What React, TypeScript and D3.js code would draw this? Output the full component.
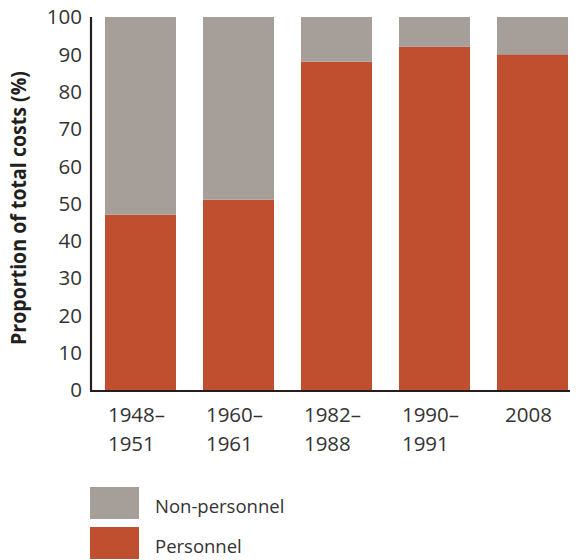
import React, { useEffect, useRef } from "react";
import * as d3 from "d3";

const categories: string[][] = [["1948–", "1951"], ["1960–", "1961"], ["1982–", "1988"], ["1990–", "1991"], ["2008"]];
const personnel: number[] = [47, 51, 88, 92, 90];
const nonPersonnel: number[] = [53, 49, 12, 8, 10];
const yTicks: number[] = [0, 10, 20, 30, 40, 50, 60, 70, 80, 90, 100];
const seriesNames = ["Non-personnel", "Personnel"];
const seriesColors = ["#a69e99", "#bf4f2f"];

const W = 578;
const H = 560;
const FONT = "'Open Sans', 'Noto Sans', sans-serif";

export default function App() {
  const ref = useRef<SVGSVGElement>(null);
  useEffect(() => {
    const svg = d3.select(ref.current);
    svg.selectAll("*").remove();
    const x = d3.scaleBand<number>().domain(categories.map((_, i) => i)).range([91, 582]).paddingInner(0.2755).paddingOuter(0.1429);
    const y = d3.scaleLinear().domain([0, 100]).range([390, 17]);

    const stacked = categories.map((_, i) => ({ i, p: personnel[i], n: nonPersonnel[i] }));
    const g = svg.append("g");
    g.selectAll("rect.p").data(stacked).join("rect")
      .attr("x", d => x(d.i)!).attr("width", x.bandwidth())
      .attr("y", d => y(d.p)).attr("height", d => y(0) - y(d.p))
      .attr("fill", seriesColors[1]);
    g.selectAll("rect.n").data(stacked).join("rect")
      .attr("x", d => x(d.i)!).attr("width", x.bandwidth())
      .attr("y", d => y(d.p + d.n)).attr("height", d => y(d.p) - y(d.p + d.n))
      .attr("fill", seriesColors[0]);

    // axes lines
    svg.append("line").attr("x1", 91).attr("x2", 91).attr("y1", 17).attr("y2", 391).attr("stroke", "#231f20").attr("stroke-width", 2.2);
    svg.append("line").attr("x1", 90).attr("x2", 578).attr("y1", 391).attr("y2", 391).attr("stroke", "#231f20").attr("stroke-width", 2.2);

    // y ticks
    svg.selectAll("text.yt").data(yTicks).join("text")
      .attr("x", 82).attr("y", d => y(d)).attr("dy", "0.36em")
      .attr("text-anchor", "end").attr("font-family", FONT).attr("font-size", 20.5)
      .attr("fill", "#333").text(d => String(d));

    // x labels
    categories.forEach((lines, i) => {
      const t = svg.append("text").attr("font-family", FONT).attr("font-size", 20.5).attr("fill", "#333");
      lines.forEach((l, j) => {
        t.append("tspan").attr("x", 0).attr("y", 422 + j * 29).text(l);
      });
      const w = (t.node() as SVGTextElement).getBBox().width;
      const x0 = x(i)! + x.bandwidth() / 2 - 4 - w / 2;
      t.selectAll("tspan").attr("x", x0);
    });

    // y title
    svg.append("text").attr("transform", `translate(25.5,208) rotate(-90)`)
      .attr("text-anchor", "middle").attr("font-family", FONT).attr("font-weight", "bold")
      .attr("font-size", 20.5).attr("textLength", 274).attr("lengthAdjust", "spacingAndGlyphs")
      .attr("fill", "#231f20").text("Proportion of total costs (%)");

    // legend
    seriesNames.forEach((name, k) => {
      const yy = 487 + k * 40;
      svg.append("rect").attr("x", 90).attr("y", yy).attr("width", 49).attr("height", 32).attr("fill", seriesColors[k]);
      svg.append("text").attr("x", 155).attr("y", yy + 26).attr("font-family", FONT).attr("font-size", 18.5)
        .attr("fill", "#333").text(name);
    });
  }, []);
  return (
    <div style={{ margin: "-8px -8px 0 -8px", width: W, height: H }}>
      <svg ref={ref} width={W} height={H} style={{ display: "block" }} />
    </div>
  );
}
